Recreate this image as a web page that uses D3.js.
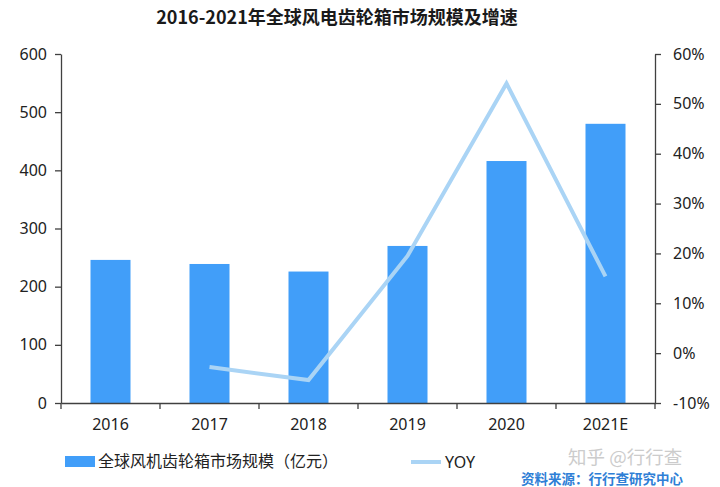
<!DOCTYPE html>
<html><head><meta charset="utf-8">
<script src="https://cdn.jsdelivr.net/npm/d3@7/dist/d3.min.js"></script>
<style>body{margin:0;background:#fff;} svg{display:block;font-family:"Noto Sans","Noto Sans CJK SC",sans-serif;}</style>
</head><body><svg id="c" width="720" height="487"></svg>
<script>
const categories = ["2016","2017","2018","2019","2020","2021E"];
const marketSize = [246, 239, 226, 270, 416, 480];
const yoy = [null, -2.8, -5.4, 19.5, 54.1, 15.4];
const leftTicks = [0,100,200,300,400,500,600];
const rightTicks = [-10,0,10,20,30,40,50,60];

const svg = d3.select("#c");
const L = 61, R = 655, T = 54, B = 403;
const xb = d3.scaleBand().domain(categories).range([L, R]);
const y = d3.scaleLinear().domain([0, 600]).range([B, T]);
const y2 = d3.scaleLinear().domain([-10, 60]).range([B, T]);

svg.append("text").attr("x", 337).attr("y", 24).attr("text-anchor","middle")
  .attr("font-size", 18).attr("font-weight","bold").attr("fill","#1a1a1a")
  .attr("font-family","'Noto Sans CJK SC',sans-serif")
  .text("2016-2021年全球风电齿轮箱市场规模及增速");

// bars
svg.selectAll("rect.bar").data(categories).join("rect").attr("class","bar")
  .attr("x", d => xb(d) + xb.bandwidth()/2 - 20).attr("width", 40)
  .attr("y", (d,i) => y(marketSize[i])).attr("height", (d,i) => B - y(marketSize[i]))
  .attr("fill", "#419ef9");

// line
const line = d3.line().defined(d => d.v !== null)
  .x(d => xb(d.c) + xb.bandwidth()/2).y(d => y2(d.v));
svg.append("path").datum(categories.map((c,i)=>({c, v: yoy[i]})))
  .attr("d", line).attr("fill","none").attr("stroke","#aad4f5").attr("stroke-width",4);

// axes
const axStyle = g => {
  g.selectAll("path.domain").attr("stroke","#404040").attr("stroke-width",1.3);
  g.selectAll(".tick line").attr("stroke","#404040").attr("stroke-width",1.3);
  g.selectAll("text").attr("font-size",16).attr("fill","#222")
    .attr("font-family","'Noto Sans',sans-serif");
};
svg.append("g").attr("transform",`translate(${L},0)`)
  .call(d3.axisLeft(y).tickValues(leftTicks).tickSize(6).tickPadding(8).tickSizeOuter(0))
  .call(axStyle);
svg.append("g").attr("transform",`translate(${R},0)`)
  .call(d3.axisRight(y2).tickValues(rightTicks).tickSize(6).tickPadding(12).tickSizeOuter(0).tickFormat(d => d + "%"))
  .call(axStyle);
const xg = svg.append("g").attr("transform",`translate(0,${B})`)
  .call(d3.axisBottom(xb).tickSize(0).tickPadding(16).tickSizeOuter(0))
  .call(axStyle);
// boundary ticks
const bounds = categories.map(c => xb(c)).concat([R]);
xg.selectAll("line.bt").data(bounds).join("line").attr("class","bt")
  .attr("x1", d=>d).attr("x2", d=>d).attr("y1",0).attr("y2",6)
  .attr("stroke","#404040").attr("stroke-width",1.3);

// legend
svg.append("rect").attr("x",65).attr("y",456).attr("width",30).attr("height",11).attr("fill","#419ef9");
svg.append("text").attr("x",98).attr("y",467).attr("font-size",16).attr("fill","#222")
  .attr("font-family","'Noto Sans CJK SC',sans-serif").text("全球风机齿轮箱市场规模（亿元）");
svg.append("line").attr("x1",411).attr("x2",441).attr("y1",462).attr("y2",462)
  .attr("stroke","#aad4f5").attr("stroke-width",4);
svg.append("text").attr("x",445).attr("y",468).attr("font-size",16).attr("fill","#222").text("YOY");

// watermark & source
svg.append("text").attr("x",568).attr("y",464).attr("font-size",18.5).attr("fill","#cccccc")
  .attr("font-family","'Noto Sans CJK SC',sans-serif").text("知乎 @行行查");
svg.append("text").attr("x",521).attr("y",484).attr("font-size",13.5).attr("font-weight","bold").attr("fill","#2f7fd6")
  .attr("font-family","'Noto Sans CJK SC',sans-serif").text("资料来源：行行查研究中心");
</script></body></html>
